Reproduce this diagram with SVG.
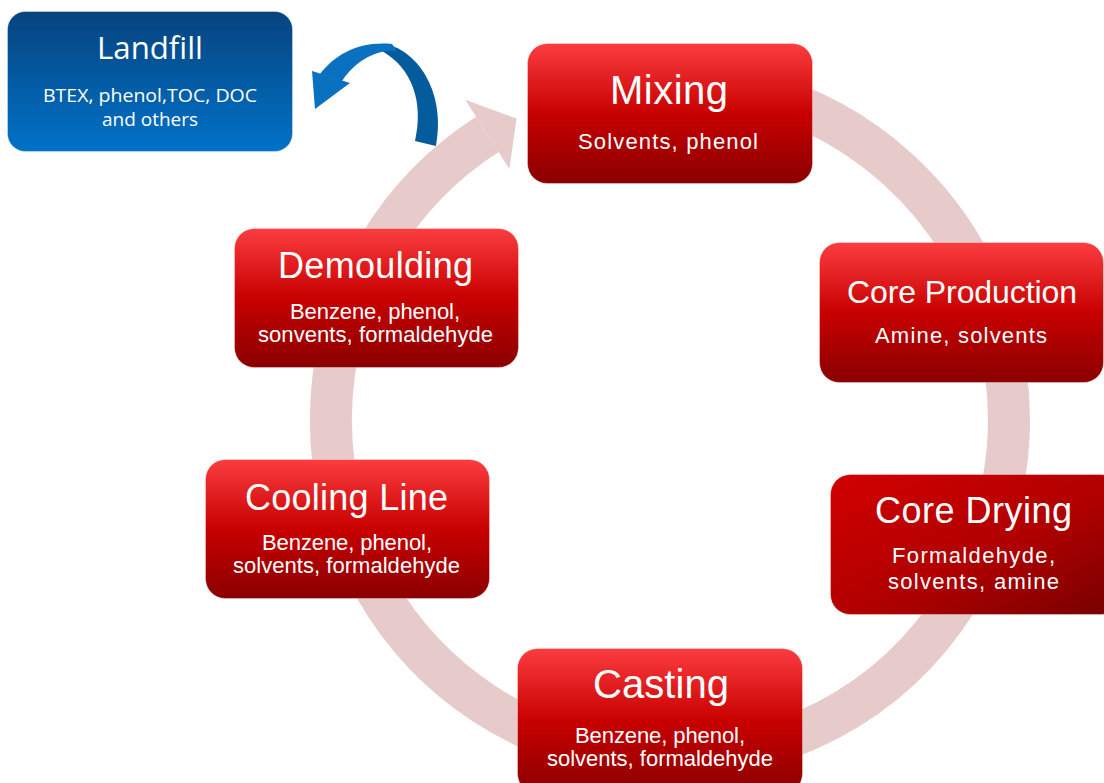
<svg xmlns="http://www.w3.org/2000/svg" width="1104" height="783" viewBox="0 0 1104 783">
  <defs>
    <linearGradient id="redFill" x1="0" y1="0" x2="0" y2="1">
      <stop offset="0" stop-color="#fb3d40"/>
      <stop offset="0.5" stop-color="#c80000"/>
      <stop offset="1" stop-color="#8a0000"/>
    </linearGradient>
    <linearGradient id="redDiag" x1="0" y1="0" x2="1" y2="1">
      <stop offset="0" stop-color="#d20000"/>
      <stop offset="0.55" stop-color="#b00000"/>
      <stop offset="1" stop-color="#760000"/>
    </linearGradient>
    <linearGradient id="blueFill" x1="0" y1="0" x2="0" y2="1">
      <stop offset="0" stop-color="#07437e"/>
      <stop offset="1" stop-color="#0072c8"/>
    </linearGradient>
    <style>
      .box { stroke: #ffffff; stroke-opacity: 0.35; stroke-width: 1; }
      .title { font-family: "Liberation Sans", Arial, sans-serif; fill: #ffffff; text-anchor: middle; }
      .sub { font-family: "Liberation Sans", Arial, sans-serif; fill: #ffffff; text-anchor: middle; font-size: 22px; }
      .lf { font-family: "Open Sans", "Noto Sans", sans-serif; fill: #ffffff; text-anchor: middle; }
      .ring { fill: none; stroke: #e7caca; stroke-width: 42; }
    </style>
  </defs>

  <rect width="1104" height="783" fill="#ffffff"/>

  <!-- connectors: the process cycle ring and the landfill discharge arrow -->
  <g id="connectors">
    <path class="ring" d="M 582.3 92.6 A 339 339 0 1 1 487.4 134.4"/>
    <polygon points="465.3,99.8 516.5,118.5 509.4,168.9" fill="#e7caca"/>
    <!-- curved blue arrow towards landfill -->
    <path d="M 386 44 C 420 52 446 95 436 146 L 415 141 C 424 102 412 68 382 51 Z" fill="#055c9d"/>
    <path d="M 320 74 C 335 55 358 41 392 44 L 397 51 C 375 49 355 62 342 81 Z" fill="#0a71c1"/>
    <polygon points="312,71 350,83 315,109" fill="#0a71c1"/>
  </g>

  <g id="landfill">
    <rect class="box" x="7.5" y="11.5" width="285" height="140" rx="18" fill="url(#blueFill)"/>
    <text class="lf" x="150" y="59" font-size="31" textLength="106" lengthAdjust="spacingAndGlyphs">Landfill</text>
    <text class="lf" x="150" y="102" font-size="18" textLength="214" lengthAdjust="spacingAndGlyphs">BTEX, phenol,TOC, DOC</text>
    <text class="lf" x="150" y="126" font-size="18" textLength="96" lengthAdjust="spacingAndGlyphs">and others</text>
  </g>

  <g id="mixing">
    <rect class="box" x="527.5" y="43.5" width="285" height="140" rx="20" fill="url(#redFill)"/>
    <text class="title" x="669" y="104" font-size="40" textLength="118">Mixing</text>
    <text class="sub" x="668" y="149" font-size="24" textLength="180">Solvents, phenol</text>
  </g>

  <g id="core-production">
    <rect class="box" x="819.5" y="242.5" width="284" height="140" rx="20" fill="url(#redFill)"/>
    <text class="title" x="962" y="303" font-size="32" textLength="230">Core Production</text>
    <text class="sub" x="961" y="343" font-size="24" textLength="172">Amine, solvents</text>
  </g>

  <g id="core-drying">
    <rect class="box" x="830.5" y="474.5" width="290" height="140" rx="20" fill="url(#redDiag)"/>
    <text class="title" x="973.5" y="523" font-size="36" textLength="197">Core Drying</text>
    <text class="sub" x="973.5" y="563" font-size="24" textLength="163">Formaldehyde,</text>
    <text class="sub" x="973.5" y="589" font-size="24" textLength="171">solvents, amine</text>
  </g>

  <g id="casting">
    <rect class="box" x="517.5" y="648.5" width="285" height="145" rx="20" fill="url(#redFill)"/>
    <text class="title" x="661" y="698" font-size="40" textLength="136">Casting</text>
    <text class="sub" x="660" y="743" textLength="170">Benzene, phenol,</text>
    <text class="sub" x="660" y="766" textLength="226">solvents, formaldehyde</text>
  </g>

  <g id="cooling-line">
    <rect class="box" x="205.5" y="459.5" width="284" height="139" rx="20" fill="url(#redFill)"/>
    <text class="title" x="346.5" y="510" font-size="36" textLength="203">Cooling Line</text>
    <text class="sub" x="347" y="550" textLength="170">Benzene, phenol,</text>
    <text class="sub" x="346.5" y="573" textLength="227">solvents, formaldehyde</text>
  </g>

  <g id="demoulding">
    <rect class="box" x="234.5" y="228.5" width="284" height="139" rx="20" fill="url(#redFill)"/>
    <text class="title" x="375.5" y="278" font-size="36" textLength="195">Demoulding</text>
    <text class="sub" x="375" y="319" textLength="170">Benzene, phenol,</text>
    <text class="sub" x="375.5" y="342" textLength="235">sonvents, formaldehyde</text>
  </g>
</svg>
